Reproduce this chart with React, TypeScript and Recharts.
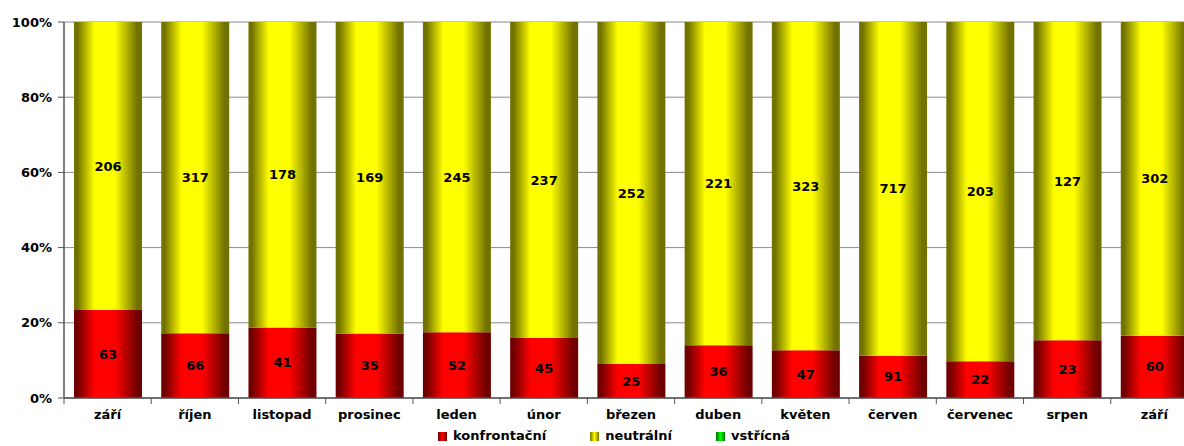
import React from "react";
import {
  BarChart,
  Bar,
  XAxis,
  YAxis,
  CartesianGrid,
  Legend,
  LabelList,
} from "recharts";

const months = [
  "září",
  "říjen",
  "listopad",
  "prosinec",
  "leden",
  "únor",
  "březen",
  "duben",
  "květen",
  "červen",
  "červenec",
  "srpen",
  "září",
];
const konfrontacni = [63, 66, 41, 35, 52, 45, 25, 36, 47, 91, 22, 23, 60];
const neutralni = [206, 317, 178, 169, 245, 237, 252, 221, 323, 717, 203, 127, 302];
const vstricna = [0, 0, 0, 0, 0, 0, 0, 0, 0, 0, 0, 0, 0];
const yTicks = [0, 0.2, 0.4, 0.6, 0.8, 1];

const series = [
  { key: "konfrontacni", name: "konfrontační", grad: "gRed", dark: "#700000", light: "#ff0000" },
  { key: "neutralni", name: "neutrální", grad: "gYellow", dark: "#727200", light: "#ffff00" },
  { key: "vstricna", name: "vstřícná", grad: "gGreen", dark: "#007000", light: "#00ff00" },
];

const data = months.map((m, i) => ({
  month: m,
  konfrontacni: konfrontacni[i],
  neutralni: neutralni[i],
  vstricna: vstricna[i],
}));

const W = 1198;
const H = 446;
const LEFT = 64;
const band = (W - LEFT) / months.length;
const font = "'DejaVu Sans', Arial, sans-serif";

const MonthTick = (props: any) => {
  const { x, y, payload } = props;
  return (
    <g>
      <line x1={x - band / 2} x2={x - band / 2} y1={y} y2={y + 6} stroke="#555" />
      <text
        x={x}
        y={y + 21}
        textAnchor="middle"
        fontFamily={font}
        fontWeight="bold"
        fontSize={13}
        fill="#000"
      >
        {payload.value}
      </text>
    </g>
  );
};

const LegendBox = () => (
  <div
    style={{
      display: "flex",
      paddingLeft: 438,
      fontFamily: font,
      fontWeight: "bold",
      fontSize: 13,
      lineHeight: "20px",
      color: "#000",
    }}
  >
    {series.map((s) => (
      <div key={s.key} style={{ display: "flex", alignItems: "center", marginRight: 44 }}>
        <span
          style={{
            display: "inline-block",
            width: 9,
            height: 9,
            marginRight: 6,
            background: `linear-gradient(to right, ${s.dark}, ${s.light}, ${s.dark})`,
          }}
        />
        {s.name}
      </div>
    ))}
  </div>
);

const App: React.FC = () => {
  return (
    <div
      style={{
        position: "absolute",
        left: 0,
        top: 0,
        width: 1184,
        height: H,
        overflow: "hidden",
        background: "#fff",
      }}
    >
      <BarChart
        width={W}
        height={H}
        data={data}
        stackOffset="expand"
        barSize={68}
        margin={{ top: 22, right: 0, bottom: 0, left: 0 }}
      >
        <defs>
          {series.map((s) => (
            <linearGradient key={s.grad} id={s.grad} x1="0" y1="0" x2="1" y2="0">
              <stop offset="0%" stopColor={s.dark} />
              <stop offset="5%" stopColor={s.dark} />
              <stop offset="30%" stopColor={s.light} />
              <stop offset="60%" stopColor={s.light} />
              <stop offset="93%" stopColor={s.dark} />
              <stop offset="100%" stopColor={s.dark} />
            </linearGradient>
          ))}
        </defs>
        <CartesianGrid vertical={false} stroke="#8a8a8a" />
        <XAxis
          dataKey="month"
          height={28}
          interval={0}
          tickSize={0}
          tickMargin={0}
          tick={<MonthTick />}
          axisLine={{ stroke: "#555", strokeWidth: 1.5 }}
          tickLine={false}
        />
        <YAxis
          width={LEFT}
          domain={[0, 1]}
          ticks={yTicks}
          tickFormatter={(v: number) => `${Math.round(v * 100)}%`}
          tickSize={6}
          tickMargin={6}
          axisLine={{ stroke: "#555", strokeWidth: 1.5 }}
          tickLine={{ stroke: "#555" }}
          tick={{ fontFamily: font, fontWeight: "bold", fontSize: 13, fill: "#000" }}
        />
        <Legend verticalAlign="bottom" height={20} content={<LegendBox />} wrapperStyle={{ left: 0, width: W }} />
        {series.map((s) => (
          <Bar
            key={s.key}
            dataKey={s.key}
            name={s.name}
            stackId="a"
            fill={`url(#${s.grad})`}
            isAnimationActive={false}
          >
            {s.key !== "vstricna" && (
              <LabelList
                dataKey={s.key}
                position="center"
                fill="#000"
                fontFamily={font}
                fontWeight="bold"
                fontSize={13}
              />
            )}
          </Bar>
        ))}
      </BarChart>
    </div>
  );
};

export default App;
